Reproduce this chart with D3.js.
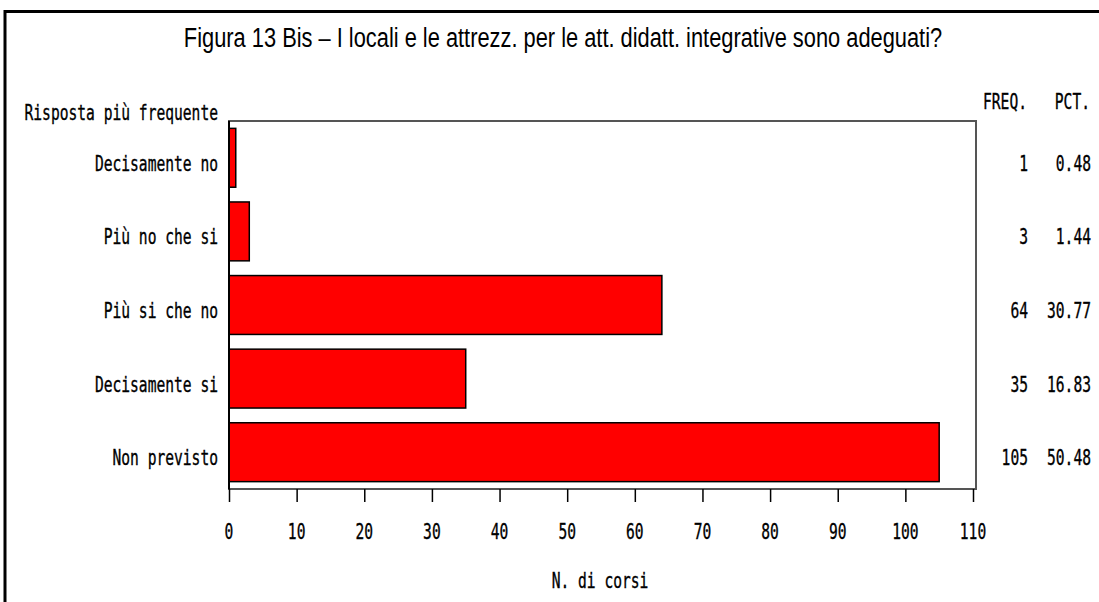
<!DOCTYPE html>
<html><head><meta charset="utf-8">
<script src="https://cdn.jsdelivr.net/npm/d3@7"></script>
<style>html,body{margin:0;padding:0;background:#fff;overflow:hidden}</style>
</head><body>
<svg id="c" width="1099" height="602"></svg>
<script>
const categories = ["Decisamente no","Più no che si","Più si che no","Decisamente si","Non previsto"];
const freq = [1, 3, 64, 35, 105];
const pct = ["0.48","1.44","30.77","16.83","50.48"];
const xTicks = [0,10,20,30,40,50,60,70,80,90,100,110];
const titleText = "Figura 13 Bis \u2013 I locali e le attrezz. per le att. didatt. integrative sono adeguati?";
const yLabel = "Risposta più frequente";
const xLabel = "N. di corsi";
const colHeaders = ["FREQ.","PCT."];

(function () {
const svg = d3.select("#c");
const mono = "'DejaVu Sans Mono', monospace";
const CW = 8.8;
const FS = 21;
const SX = CW / (0.602 * FS);

function monoText(str, x, y, anchor) {
  const g = svg.append("g").attr("transform", `translate(${x},${y}) scale(${SX},1)`);
  return g.append("text")
    .attr("x", 0).attr("y", 0)
    .attr("text-anchor", anchor || "start")
    .attr("font-family", mono).attr("font-size", FS)
    .attr("stroke", "#000").attr("stroke-width", 0.35)
    .attr("fill", "#000")
    .text(str);
}

svg.append("path").attr("d", "M5,602 L5,11.5 L1099,11.5")
  .attr("fill", "none").attr("stroke", "#000").attr("stroke-width", 3);

const tg = svg.append("g").attr("transform", "translate(563,47) scale(0.78,1)");
tg.append("text").attr("x", 0).attr("y", 0).attr("text-anchor", "middle")
  .attr("font-family", "'Liberation Sans', Arial, sans-serif").attr("font-size", 28)
  .attr("fill", "#000").text(titleText);

const pLeft = 229, pRight = 976, pTop = 121, pBottom = 489;
const x = d3.scaleLinear().domain([0, 110]).range([229, 973]);
const y = d3.scaleBand().domain(categories).range([pTop, pBottom]).paddingInner(0.2).paddingOuter(0.1);

svg.append("rect").attr("x", pLeft).attr("y", pTop).attr("width", pRight - pLeft).attr("height", pBottom - pTop)
  .attr("fill", "#fff").attr("stroke", "#555").attr("stroke-width", 2);

svg.selectAll("rect.bar").data(categories).enter().append("rect").attr("class", "bar")
  .attr("x", x(0)).attr("y", d => y(d))
  .attr("width", (d, i) => x(freq[i]) - x(0))
  .attr("height", y.bandwidth())
  .attr("fill", "#ff0000").attr("stroke", "#000").attr("stroke-width", 1.5);

svg.append("line").attr("x1", pLeft).attr("x2", pLeft).attr("y1", pTop).attr("y2", pBottom)
  .attr("stroke", "#000").attr("stroke-width", 2);

const ax = svg.append("g").attr("transform", `translate(0,${pBottom})`)
  .call(d3.axisBottom(x).tickValues(xTicks).tickSize(13).tickFormat(""));
ax.select(".domain").remove();
ax.selectAll(".tick line").attr("stroke", "#000").attr("stroke-width", 1.5);
xTicks.forEach(t => monoText(String(t), x(t), 539, "middle"));

categories.forEach((c, i) => monoText(c, 218, y(c) + y.bandwidth() / 2 + 13, "end"));

monoText(yLabel, 218, 120, "end");

monoText(colHeaders[0], 1027, 109, "end");
monoText(colHeaders[1], 1090, 109, "end");

categories.forEach((c, i) => {
  const yy = y(c) + y.bandwidth() / 2 + 13;
  monoText(String(freq[i]), 1028, yy, "end");
  monoText(pct[i], 1091, yy, "end");
});

monoText(xLabel, 600, 588, "middle");
})();
</script>
</body></html>
